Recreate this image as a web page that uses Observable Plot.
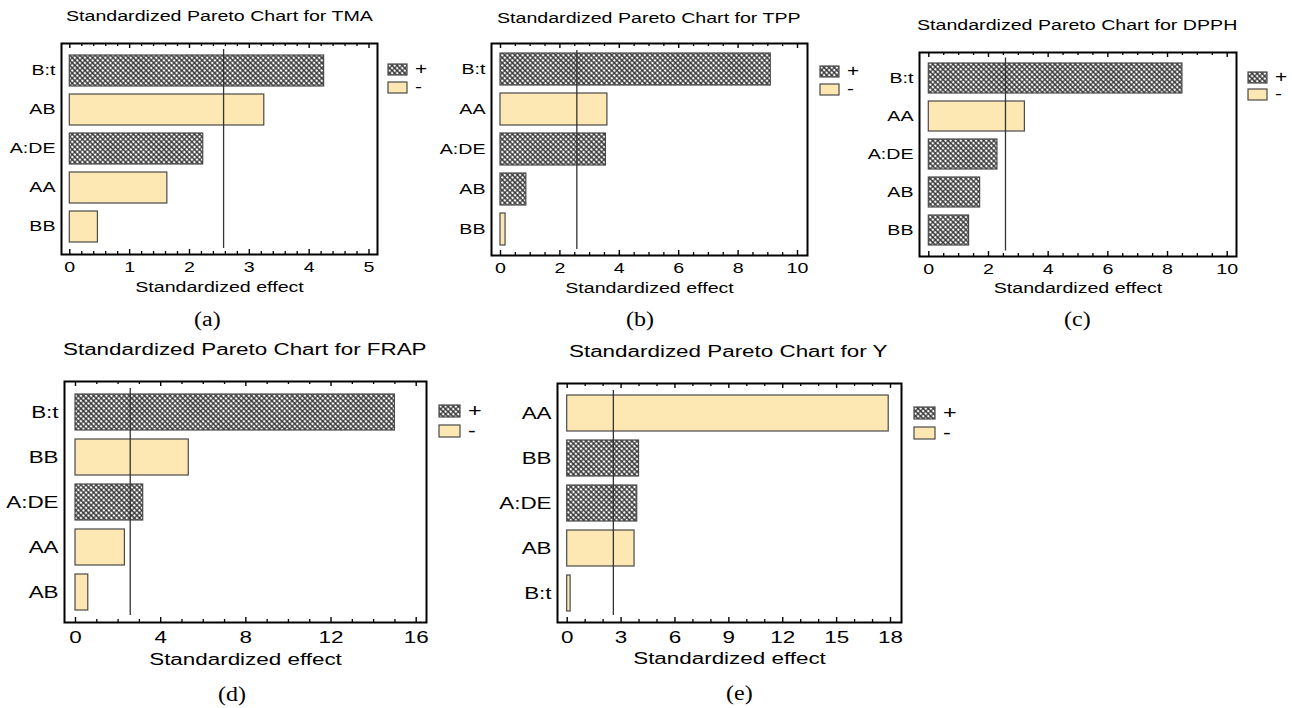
<!DOCTYPE html>
<html><head><meta charset="utf-8">
<script src="https://cdn.jsdelivr.net/npm/d3@7"></script>
<script src="https://cdn.jsdelivr.net/npm/@observablehq/plot@0.6"></script>
<style>
body{margin:0;background:#fff;}
#page{position:relative;width:1292px;height:708px;overflow:hidden;font-family:"Liberation Sans",Arial,sans-serif;color:#000;}
.title{position:absolute;white-space:nowrap;line-height:1;transform-origin:0 0;}
.cap{position:absolute;font-family:"Liberation Serif","Times New Roman",serif;font-size:20px;line-height:1;white-space:nowrap;}
.leg{position:absolute;line-height:1;}
.row{display:flex;align-items:center;}
</style></head><body>
<svg width="0" height="0" style="position:absolute"><defs>
<pattern id="hatch" width="3.6" height="3.6" patternUnits="userSpaceOnUse" patternTransform="rotate(45)">
<rect width="3.6" height="3.6" fill="#fff"/>
<path d="M0,1.8H3.6M1.8,0V3.6" stroke="#2a2a2a" stroke-width="1.15"/>
</pattern></defs></svg>
<div id="page"></div>
<script>
// ---------- data ----------
const critValue = 2.57;
const signLevels = ["+", "-"];
const signFills = ["url(#hatch)", "#FDE7B3"];
const axisTitle = "Standardized effect";

const factorsTMA = ["B:t", "AB", "A:DE", "AA", "BB"];
const effectsTMA = [4.25, 3.25, 2.23, 1.63, 0.47];
const signsTMA   = ["+", "-", "+", "-", "-"];
const ticksTMA   = [0, 1, 2, 3, 4, 5];

const factorsTPP = ["B:t", "AA", "A:DE", "AB", "BB"];
const effectsTPP = [9.1, 3.6, 3.55, 0.87, 0.17];
const signsTPP   = ["+", "-", "+", "+", "-"];
const ticksTPP   = [0, 2, 4, 6, 8, 10];

const factorsDPPH = ["B:t", "AA", "A:DE", "AB", "BB"];
const effectsDPPH = [8.5, 3.22, 2.3, 1.72, 1.35];
const signsDPPH   = ["+", "-", "+", "+", "+"];
const ticksDPPH   = [0, 2, 4, 6, 8, 10];

const factorsFRAP = ["B:t", "BB", "A:DE", "AA", "AB"];
const effectsFRAP = [15.0, 5.32, 3.18, 2.32, 0.6];
const signsFRAP   = ["+", "-", "+", "-", "-"];
const ticksFRAP   = [0, 4, 8, 12, 16];

const factorsY = ["AA", "BB", "A:DE", "AB", "B:t"];
const effectsY = [17.9, 4.0, 3.9, 3.75, 0.19];
const signsY   = ["-", "+", "+", "-", "-"];
const ticksY   = [0, 3, 6, 9, 12, 15, 18];

// ---------- layout ----------
const panels = [
  {title:"Standardized Pareto Chart for TMA", cap:"(a)", factors:factorsTMA, effects:effectsTMA, signs:signsTMA, major:ticksTMA, minorStep:0.2,
   L:61, T:43, R:377, B:254, inset:[8.3, 8.5], fs:14, mL:60, mB:50, tp:8, lo:37.5, ri:[6,6],
   tx:219, ty:9, cx:207, cy:309, lx:387, ly:61, sw:[19,11], lg:18},
  {title:"Standardized Pareto Chart for TPP", cap:"(b)", factors:factorsTPP, effects:effectsTPP, signs:signsTPP, major:ticksTPP, minorStep:0.5,
   L:491, T:43, R:807, B:255, inset:[9, 10], fs:14, mL:60, mB:50, tp:8, lo:37, ri:[7,6],
   tx:649, ty:11, cx:640, cy:309, lx:819, ly:63, sw:[19,11], lg:18},
  {title:"Standardized Pareto Chart for DPPH", cap:"(c)", factors:factorsDPPH, effects:effectsDPPH, signs:signsDPPH, major:ticksDPPH, minorStep:0.5,
   L:919, T:52, R:1236, B:256, inset:[9.3, 9.3], fs:14, mL:60, mB:50, tp:7.5, lo:36, ri:[5.5,5.5],
   tx:1077, ty:17.5, cx:1077, cy:309, lx:1247, ly:69, sw:[19,11], lg:17},
  {title:"Standardized Pareto Chart for FRAP", cap:"(d)", factors:factorsFRAP, effects:effectsFRAP, signs:signsFRAP, major:ticksFRAP, minorStep:1,
   L:64, T:381, R:426, B:622, inset:[11, 10.3], fs:16, mL:62, mB:60, tp:8.7, lo:42, ri:[7,7],
   tx:245, ty:342, cx:231.7, cy:684, lx:438, ly:402, sw:[21,12], lg:20},
  {title:"Standardized Pareto Chart for Y", cap:"(e)", factors:factorsY, effects:effectsY, signs:signsY, major:ticksY, minorStep:1,
   L:557, T:383, R:901, B:622, inset:[9.7, 11], fs:16, mL:60, mB:60, tp:8.7, lo:41, ri:[7,7],
   tx:728.5, ty:344, cx:739, cy:683, lx:913, ly:404, sw:[21,12], lg:20}
];

const STRETCH = 1.4;
const MAJOR_LEN = 5, MINOR_LEN = 3;
const page = document.getElementById("page");

function stretchTexts(root, k) {
  root.querySelectorAll("text").forEach(t => {
    const len = t.getComputedTextLength();
    if (len > 0) {
      t.setAttribute("textLength", (len * k).toFixed(2));
      t.setAttribute("lengthAdjust", "spacingAndGlyphs");
    }
  });
}

function addHtml(cls, text, x, y, fs, sx) {
  const d = document.createElement("div");
  d.className = cls;
  d.textContent = text;
  if (fs) d.style.fontSize = fs + "px";
  page.appendChild(d);
  const w = d.getBoundingClientRect().width;
  d.style.left = (x - w * sx / 2) + "px";
  d.style.top = y + "px";
  d.style.transformOrigin = "0 0";
  d.style.transform = `scaleX(${sx})`;
  return d;
}

for (const p of panels) {
  const data = p.factors.map((k, i) => ({k, v: p.effects[i], s: p.signs[i]}));
  const xmax = p.major[p.major.length - 1];
  const majorStep = p.major[1] - p.major[0];
  const minor = d3.range(0, Math.round(xmax / p.minorStep) + 1)
    .map(i => i * p.minorStep)
    .filter(t => Math.abs(t / majorStep - Math.round(t / majorStep)) > 1e-6);
  const mT = 3, mR = 3;
  const W = p.R - p.L + p.mL + mR;
  const H = p.B - p.T + mT + p.mB;
  const frameH = p.B - p.T;
  const tickMark = (vals, len, atBottom, sw) => Plot.ruleX(vals, {
    stroke: "#000", strokeWidth: sw,
    insetTop: atBottom ? frameH - len : 0,
    insetBottom: atBottom ? 0 : frameH - len
  });

  const chart = Plot.plot({
    width: W, height: H,
    marginLeft: p.mL, marginTop: mT, marginRight: mR, marginBottom: p.mB,
    style: {fontFamily: "'Liberation Sans', Arial, sans-serif", fontSize: p.fs + "px", color: "#000", background: "transparent", overflow: "visible"},
    x: {domain: [0, xmax], insetLeft: p.inset[0], insetRight: p.inset[1]},
    y: {domain: p.factors, paddingInner: 0.2, paddingOuter: 0.25},
    color: {domain: signLevels, range: signFills},
    marks: [
      Plot.barX(data, {x: "v", y: "k", fill: "s", stroke: "#4a4a4a", strokeWidth: 1.2}),
      Plot.ruleX([critValue], {stroke: "#333", strokeWidth: 1.3, insetTop: p.ri[0], insetBottom: p.ri[1]}),
      tickMark(p.major, MAJOR_LEN, true, 1.4),
      tickMark(minor, MINOR_LEN, true, 1.3),
      tickMark(p.major, MAJOR_LEN, false, 1.4),
      tickMark(minor, MINOR_LEN, false, 1.3),
      Plot.axisX({anchor: "bottom", ticks: p.major, tickSize: 0, tickPadding: p.tp, tickFormat: d => String(d), label: axisTitle, labelAnchor: "center", labelOffset: p.lo, labelArrow: "none"}),
      Plot.axisY({anchor: "left", tickSize: 0, tickPadding: 6, label: null}),
      Plot.frame({stroke: "#000", strokeWidth: 2})
    ]
  });
  chart.style.position = "absolute";
  chart.style.left = (p.L - p.mL) + "px";
  chart.style.top = (p.T - mT) + "px";
  page.appendChild(chart);
  stretchTexts(chart, STRETCH);

  addHtml("title", p.title, p.tx, p.ty, p.fs, STRETCH);
  addHtml("cap", p.cap, p.cx, p.cy, null, 1.2);

  const leg = document.createElement("div");
  leg.className = "leg";
  leg.style.left = p.lx + "px";
  leg.style.top = p.ly + "px";
  signLevels.forEach((s, i) => {
    const row = document.createElement("div");
    row.className = "row";
    row.style.position = "absolute";
    row.style.top = (i * p.lg) + "px";
    row.style.left = "0px";
    row.innerHTML = `<svg width="${p.sw[0] + 2}" height="${p.sw[1] + 2}" style="display:block"><rect x="1" y="1" width="${p.sw[0]}" height="${p.sw[1]}" fill="${signFills[i]}" stroke="#4a4a4a" stroke-width="1.2"/></svg>` +
      `<span style="display:inline-block;margin-left:7px;font-size:${p.fs + 2}px;transform:scaleX(1.3);transform-origin:0 50%;">${s}</span>`;
    leg.appendChild(row);
  });
  page.appendChild(leg);
}
</script>
</body></html>
